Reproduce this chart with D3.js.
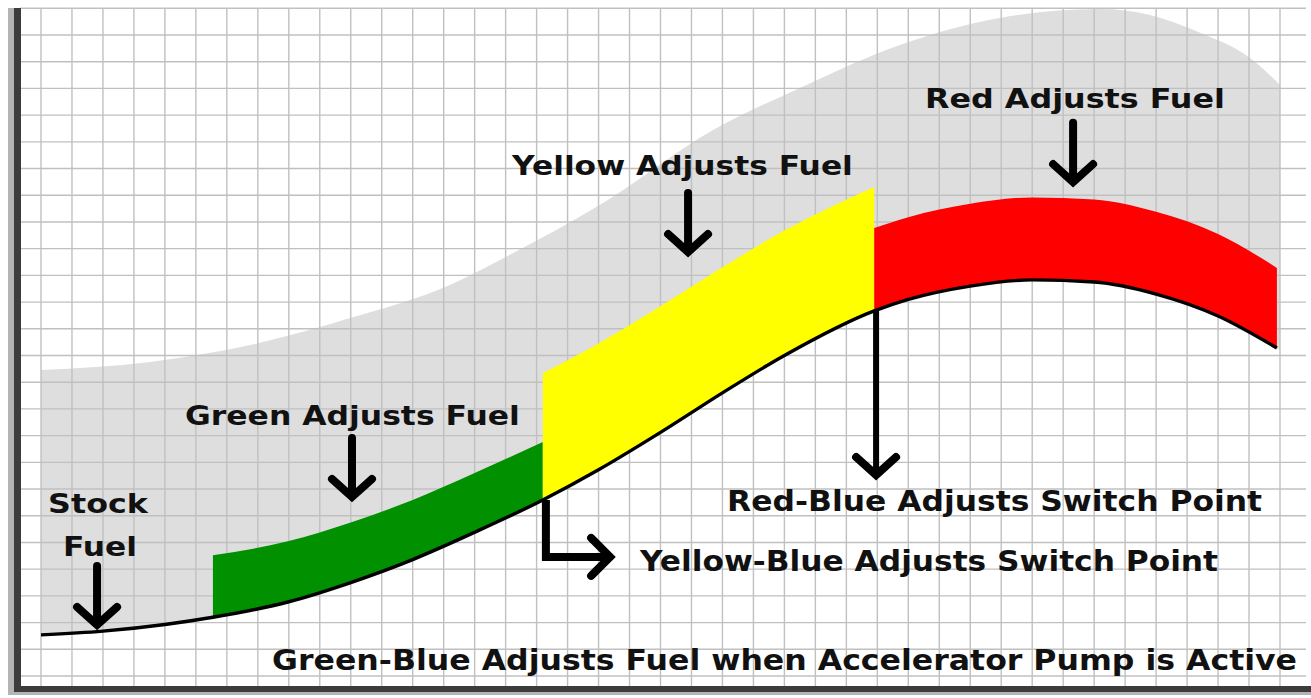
<!DOCTYPE html>
<html>
<head>
<meta charset="utf-8">
<script src="https://cdn.jsdelivr.net/npm/d3@7"></script>
<style>
  html, body { margin: 0; padding: 0; background: #ffffff; }
  svg { display: block; }
  text { font-family: "DejaVu Sans", Verdana, sans-serif; font-weight: bold; fill: #111111; }
</style>
</head>
<body>
<svg id="chart" width="1311" height="698"></svg>
<script>
// ---------------- DATA (grid units: x = columns, y = rows) ----------------
const stockX    = [0, 2, 4, 5.55, 8, 10, 12, 14, 16.2, 18, 20, 22, 24, 26.9, 28, 30, 32, 34, 36, 38, 39.9];
const stockFuel = [1.54, 1.68, 1.93, 2.2, 2.78, 3.5, 4.36, 5.38, 6.59, 7.72, 9.12, 10.6, 12.0, 13.67, 14.1, 14.6, 14.83, 14.75, 14.3, 13.48, 12.28];

const envelopeX   = [0, 3.52, 6.75, 9.98, 13.2, 14.82, 18.05, 21.7, 24.5, 27.73, 30.96, 34.19, 35.8, 37.42, 39.03, 40];
const envelopeTop = [11.46, 11.76, 12.39, 13.4, 14.64, 15.58, 17.64, 20.44, 22.02, 23.63, 24.64, 24.97, 24.75, 24.08, 23.14, 22.13];

const greenX      = [5.55, 8, 10, 12, 14, 16.2];
const greenTop    = [4.52, 5.05, 5.75, 6.59, 7.6, 8.76];
const greenBottom = [2.2, 2.78, 3.5, 4.36, 5.38, 6.59];

const yellowX      = [16.2, 18, 20, 22, 24, 26.9];
const yellowTop    = [11.34, 12.45, 13.84, 15.3, 16.68, 18.31];
const yellowBottom = [6.59, 7.72, 9.12, 10.6, 12.0, 13.67];

const redX      = [26.9, 28, 30, 32, 34, 36, 38, 39.9];
const redTop    = [16.77, 17.18, 17.68, 17.92, 17.84, 17.38, 16.55, 15.28];
const redBottom = [13.67, 14.1, 14.6, 14.83, 14.75, 14.3, 13.48, 12.28];

const labelTexts = [
  "Red Adjusts Fuel",
  "Yellow Adjusts Fuel",
  "Green Adjusts Fuel",
  "Stock",
  "Fuel",
  "Red-Blue Adjusts Switch Point",
  "Yellow-Blue Adjusts Switch Point",
  "Green-Blue Adjusts Fuel when Accelerator Pump is Active"
];

// ---------------- LAYOUT ----------------
const svg = d3.select("#chart");
const x = d3.scaleLinear().domain([0, 40]).range([41, 1280]);
const y = d3.scaleLinear().domain([0, 24]).range([676, 35]);

// label placement (grid units): start x, end x, baseline y
const labelPos = [
  [28.54, 38.22, 21.27],
  [15.21, 26.21, 18.76],
  [4.65, 15.46, 9.40],
  [0.23, 3.45, 6.10],
  [0.71, 3.10, 4.49],
  [22.15, 39.42, 6.18],
  [19.34, 38.0, 3.93],
  [7.46, 40.55, 0.22]
];
// down arrows (grid units): x, top y, tip y
const downArrows = [
  [1.81, 4.12, 1.80],
  [10.04, 8.91, 6.59],
  [20.89, 18.08, 15.76],
  [33.32, 20.71, 18.38],
  [26.96, 13.63, 7.41]
];
// elbow arrow (grid units): x, top y, corner y, tip x
const elbowArrow = [16.3, 6.59, 4.46, 18.47];

const curve = d3.curveMonotoneX;
const pts = (xs, ys) => xs.map((v, i) => [v, ys[i]]);
const line = d3.line().x(d => x(d[0])).y(d => y(d[1])).curve(curve);

// ---------------- GREY ENVELOPE ----------------
const envPath = line(pts(envelopeX, envelopeTop));
const stockRev = line(pts(stockX, stockFuel).slice().reverse());
svg.append("path")
  .attr("d", envPath + "L" + x(40) + "," + y(12.2) + stockRev.replace(/^M/, "L") + "Z")
  .attr("fill", "#dedede");

// ---------------- GRID ----------------
const grid = svg.append("g").attr("stroke", "#c0c0c0").attr("stroke-width", 1.4);
const gridTop = y(25), gridBottom = 690;
d3.range(0, 41).forEach(k => {
  grid.append("line").attr("x1", x(k)).attr("x2", x(k)).attr("y1", gridTop).attr("y2", gridBottom);
});
d3.range(0, 26).forEach(k => {
  grid.append("line").attr("x1", 20).attr("x2", 1306).attr("y1", y(k)).attr("y2", y(k));
});

// ---------------- BANDS ----------------
const band = (xs, top, bot, color) => {
  const area = d3.area()
    .x(d => x(d[0])).y0(d => y(d[2])).y1(d => y(d[1]))
    .curve(curve);
  svg.append("path")
    .attr("d", area(xs.map((v, i) => [v, top[i], bot[i]])))
    .attr("fill", color);
};
band(greenX, greenTop, greenBottom, "#009000");
band(yellowX, yellowTop, yellowBottom, "#ffff00");
band(redX, redTop, redBottom, "#ff0000");

// stock fuel curve
svg.append("path")
  .attr("d", line(pts(stockX, stockFuel)))
  .attr("fill", "none").attr("stroke", "#000").attr("stroke-width", 3.4);

// ---------------- ARROWS ----------------
const arrowG = svg.append("g").attr("stroke", "#000").attr("fill", "none")
  .attr("stroke-width", 8).attr("stroke-linecap", "round").attr("stroke-linejoin", "miter");
downArrows.forEach(([ax, ty, tip], i) => {
  const cx = x(ax), t = y(ty), p = y(tip);
  const sw = i === 4 ? 6 : 8;
  arrowG.append("line").attr("x1", cx).attr("x2", cx).attr("y1", t).attr("y2", p - 4).attr("stroke-width", sw);
  arrowG.append("polyline")
    .attr("points", `${cx - 20},${p - 21} ${cx},${p - 3} ${cx + 20},${p - 21}`);
});
{
  const [ex, ey0, ey1, etip] = elbowArrow;
  const cx = x(ex), t = y(ey0), c = y(ey1), p = x(etip);
  arrowG.append("polyline")
    .attr("points", `${cx},${t} ${cx},${c} ${p - 4},${c}`)
    .attr("stroke-width", 8).attr("stroke-linecap", "butt");
  arrowG.append("polyline")
    .attr("points", `${p - 22},${c - 19} ${p - 3},${c} ${p - 22},${c + 19}`);
}

// ---------------- LABELS ----------------
labelTexts.forEach((t, i) => {
  const [x0, x1, by] = labelPos[i];
  svg.append("text")
    .attr("x", x(x0)).attr("y", y(by))
    .attr("font-size", i >= 5 ? 28 : 27)
    .attr("textLength", x(x1) - x(x0))
    .attr("lengthAdjust", "spacingAndGlyphs")
    .text(t);
});

// ---------------- FRAME ----------------
svg.append("rect").attr("x", 8).attr("y", 8).attr("width", 6).attr("height", 687).attr("fill", "#b4b4b4");
svg.append("rect").attr("x", 14).attr("y", 8).attr("width", 7).attr("height", 684).attr("fill", "#3c3c3c");
svg.append("rect").attr("x", 14).attr("y", 686).attr("width", 1297).attr("height", 6).attr("fill", "#3c3c3c");
svg.append("rect").attr("x", 8).attr("y", 692).attr("width", 1303).attr("height", 3).attr("fill", "#b4b4b4");
</script>
</body>
</html>
